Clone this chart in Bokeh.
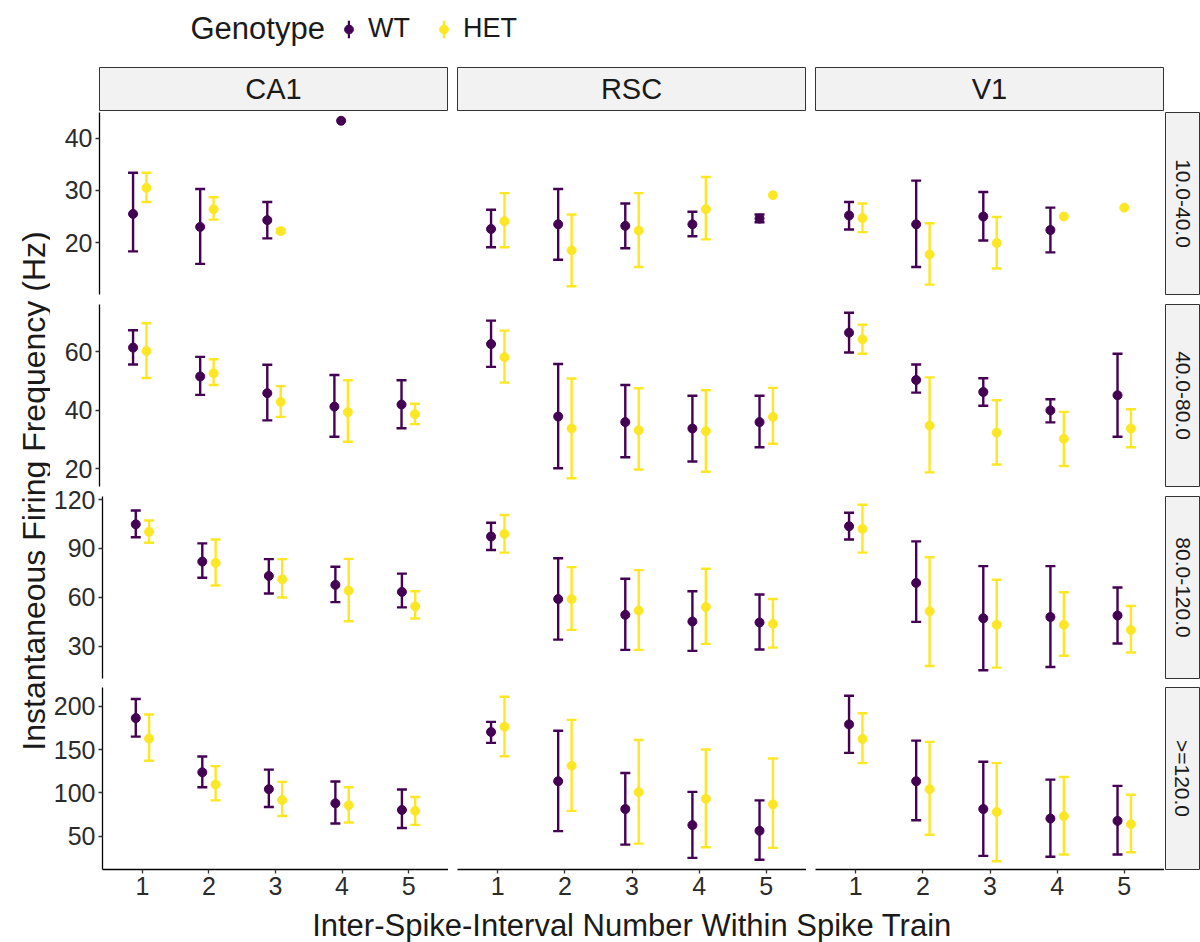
import math
from bokeh.plotting import figure
from bokeh.models import (Range1d, LinearAxis, FixedTicker, Whisker, TeeHead,
                          ColumnDataSource, Label, Legend, LegendItem)
from bokeh.layouts import column, row
from bokeh.embed import file_html
from bokeh.resources import INLINE

NaN = float("nan")

# ---------------- data ----------------
GENOTYPES = ["WT", "HET"]
REGIONS = ["CA1", "RSC", "V1"]
BINS = ["10.0-40.0", "40.0-80.0", "80.0-120.0", ">=120.0"]
ISI = [1, 2, 3, 4, 5]
X_TICKS = [1, 2, 3, 4, 5]
Y_TICKS = [[10, 20, 30, 40], [20, 40, 60], [30, 60, 90, 120], [50, 100, 150, 200]]

# each list: one row per frequency bin, one value per ISI number
CA1_WT_MEAN = [[25.5, 23.0, 24.3, 43.4, NaN], [61.5, 51.6, 45.9, 41.3, 42.0],
               [104.8, 81.9, 73.1, 67.6, 63.3], [186.3, 123.7, 104.2, 87.9, 80.2]]
CA1_WT_LOW = [[18.3, 15.9, 20.8, NaN, NaN], [55.7, 45.3, 36.6, 31.0, 33.9],
              [96.9, 72.0, 62.3, 57.0, 53.8], [164.9, 106.5, 83.6, 64.5, 59.3]]
CA1_WT_HIGH = [[33.4, 30.3, 27.8, NaN, NaN], [67.4, 58.3, 55.6, 52.1, 50.3],
               [113.3, 93.1, 83.4, 78.7, 74.5], [208.4, 142.0, 126.8, 113.0, 103.9]]
CA1_HET_MEAN = [[30.5, 26.4, 22.2, NaN, NaN], [60.3, 52.7, 42.9, 39.4, 38.7],
                [100.2, 81.1, 71.0, 64.1, 54.4], [162.6, 109.6, 91.6, 85.6, 79.1]]
CA1_HET_LOW = [[27.8, 24.4, 21.8, NaN, NaN], [51.1, 48.7, 37.8, 29.3, 35.3],
               [93.5, 67.2, 59.9, 45.3, 47.0], [137.1, 91.3, 73.3, 65.7, 63.0]]
CA1_HET_HIGH = [[33.4, 28.7, 22.6, NaN, NaN], [69.8, 57.5, 48.3, 50.3, 42.3],
                [107.1, 95.5, 83.4, 83.6, 63.7], [190.4, 130.9, 112.6, 106.5, 95.1]]

RSC_WT_MEAN = [[22.6, 23.5, 23.2, 23.5, 24.6], [62.7, 37.9, 36.0, 33.8, 36.0],
               [97.3, 58.9, 49.2, 45.1, 44.5], [170.3, 113.4, 81.3, 62.7, 56.2]]
RSC_WT_LOW = [[19.1, 16.7, 18.9, 21.2, 23.9], [54.9, 20.2, 24.0, 22.5, 27.4],
              [89.0, 34.0, 27.7, 27.1, 27.9], [157.7, 55.8, 40.2, 24.9, 22.7]]
RSC_WT_HIGH = [[26.3, 30.3, 27.5, 25.9, 25.4], [70.7, 55.9, 48.7, 45.0, 45.0],
               [105.8, 84.0, 71.4, 63.7, 61.7], [182.0, 171.7, 122.9, 101.1, 91.3]]
RSC_HET_MEAN = [[24.1, 18.5, 22.3, 26.4, 29.1], [58.2, 33.8, 33.2, 32.9, 37.8],
                [98.9, 58.9, 51.8, 54.0, 43.7], [176.3, 131.3, 100.8, 93.1, 86.7]]
RSC_HET_LOW = [[19.1, 11.6, 15.3, 20.6, NaN], [49.5, 16.8, 19.8, 19.0, 28.6],
               [87.4, 40.0, 27.7, 31.4, 29.1], [142.3, 79.1, 41.3, 37.1, 36.4]]
RSC_HET_HIGH = [[29.5, 25.4, 29.5, 32.6, NaN], [67.3, 50.9, 47.6, 46.9, 47.7],
                [110.5, 78.5, 76.7, 77.5, 58.9], [211.0, 184.3, 161.1, 150.0, 139.7]]

V1_WT_MEAN = [[25.2, 23.5, 25.0, 22.4, NaN], [66.6, 50.4, 46.3, 40.0, 45.2],
              [103.6, 68.8, 47.1, 47.9, 48.8], [179.0, 113.4, 81.3, 70.3, 67.6]]
V1_WT_LOW = [[22.5, 15.3, 20.4, 18.1, NaN], [59.8, 46.1, 41.6, 35.9, 31.0],
             [95.5, 44.9, 15.2, 17.2, 31.6], [146.2, 68.4, 27.2, 26.1, 28.7]]
V1_WT_HIGH = [[27.8, 31.9, 29.7, 26.7, NaN], [73.4, 55.7, 51.0, 43.8, 59.4],
              [111.9, 94.3, 79.1, 79.1, 66.0], [212.1, 160.3, 135.9, 115.3, 108.0]]
V1_HET_MEAN = [[24.7, 17.7, 19.9, 25.0, 26.7], [64.3, 34.8, 32.4, 30.3, 33.8],
               [102.0, 51.4, 43.1, 43.1, 39.9], [162.2, 104.2, 77.9, 73.0, 63.8]]
V1_HET_LOW = [[22.0, 11.9, 15.0, NaN, NaN], [59.4, 18.8, 21.5, 21.0, 27.4],
              [87.4, 17.8, 16.8, 24.1, 26.1], [134.3, 51.6, 21.0, 28.7, 31.4]]
V1_HET_HIGH = [[27.5, 23.7, 24.9, NaN, NaN], [69.3, 51.3, 43.5, 39.5, 40.4],
               [116.8, 84.6, 70.8, 63.1, 54.6], [192.0, 158.8, 134.3, 118.3, 97.7]]

DATA = {
    ("CA1", "WT"): (CA1_WT_MEAN, CA1_WT_LOW, CA1_WT_HIGH),
    ("CA1", "HET"): (CA1_HET_MEAN, CA1_HET_LOW, CA1_HET_HIGH),
    ("RSC", "WT"): (RSC_WT_MEAN, RSC_WT_LOW, RSC_WT_HIGH),
    ("RSC", "HET"): (RSC_HET_MEAN, RSC_HET_LOW, RSC_HET_HIGH),
    ("V1", "WT"): (V1_WT_MEAN, V1_WT_LOW, V1_WT_HIGH),
    ("V1", "HET"): (V1_HET_MEAN, V1_HET_LOW, V1_HET_HIGH),
}

# ---------------- style / layout ----------------
FONT = "Liberation Sans"
COLORS = {"WT": "#440154", "HET": "#FDE725"}
TEXT_DARK = "#1a1a1a"
TICK_TEXT = "#2b2b2b"
STRIP_FILL = "#F2F2F2"
STRIP_LINE = "#333333"
DODGE = 0.1
BAR_W = 2.4
CAP = 10
DOT = 9

TOTAL_W = 1200
YT_W = 50
LEFT_BORDER = 49
COL_W = 349
GAP = 9
RSTRIP_W = 36
FRAME_H = 184
ROW_TOP = [0, 8, 8, 7]
ROW_BOTTOM = [0, 0, 0, 38]
LEGEND_H = 66
STRIP_H = 45
XT_H = 942 - LEGEND_H - STRIP_H - (4 * FRAME_H + sum(ROW_TOP) + sum(ROW_BOTTOM))


def is_nan(v):
    return v is None or (isinstance(v, float) and math.isnan(v))


def y_limits(bi):
    vals = []
    for reg in REGIONS:
        for g in GENOTYPES:
            for arr in DATA[(reg, g)]:
                vals += [v for v in arr[bi] if not is_nan(v)]
    a, b = min(vals), max(vals)
    pad = 0.05 * (b - a)
    return a - pad, b + pad


def blank_fig(w, h, **kw):
    p = figure(width=w, height=h, x_range=Range1d(0, 1), y_range=Range1d(0, 1),
               x_axis_location=None, y_axis_location=None, toolbar_location=None,
               output_backend="svg", min_border=0, **kw)
    p.xgrid.visible = False
    p.ygrid.visible = False
    p.outline_line_color = None
    p.background_fill_color = "white"
    p.border_fill_color = "white"
    return p


def style_axis(ax):
    ax.axis_line_color = "black"
    ax.axis_line_width = 1.3
    ax.major_tick_line_color = "#333333"
    ax.major_tick_line_width = 1.3
    ax.major_tick_out = 4
    ax.major_tick_in = 0
    ax.minor_tick_out = 0
    ax.minor_tick_in = 0
    ax.major_label_standoff = 3
    ax.major_label_text_font = FONT
    ax.major_label_text_font_size = "25px"
    ax.major_label_text_color = TICK_TEXT


def make_panel(bi, ri):
    left = LEFT_BORDER if ri == 0 else GAP
    mt, mb = ROW_TOP[bi], ROW_BOTTOM[bi]
    y0, y1 = y_limits(bi)
    p = figure(width=left + COL_W, height=FRAME_H + mt + mb,
               x_range=Range1d(0.4, 5.6), y_range=Range1d(y0, y1),
               x_axis_location=None, y_axis_location=None, toolbar_location=None,
               output_backend="svg", min_border=0,
               min_border_left=left, min_border_right=0,
               min_border_top=mt, min_border_bottom=mb)
    p.xgrid.visible = False
    p.ygrid.visible = False
    p.outline_line_color = None
    p.background_fill_color = "white"
    p.border_fill_color = "white"
    if ri == 0:
        ax = LinearAxis(ticker=FixedTicker(ticks=Y_TICKS[bi]))
        style_axis(ax)
        p.add_layout(ax, "left")
    if bi == len(BINS) - 1:
        ax = LinearAxis(ticker=FixedTicker(ticks=X_TICKS))
        style_axis(ax)
        p.add_layout(ax, "below")

    reg = REGIONS[ri]
    for g in GENOTYPES:
        col = COLORS[g]
        mean, low, high = DATA[(reg, g)]
        xs, ys, wx, wl, wh = [], [], [], [], []
        for k, isi in enumerate(ISI):
            m = mean[bi][k]
            if is_nan(m):
                continue
            present = [gg for gg in GENOTYPES if not is_nan(DATA[(reg, gg)][0][bi][k])]
            if len(present) == 1:
                off = 0.0
            else:
                off = -DODGE if g == "WT" else DODGE
            xs.append(isi + off)
            ys.append(m)
            if not is_nan(low[bi][k]) and not is_nan(high[bi][k]):
                wx.append(isi + off)
                wl.append(low[bi][k])
                wh.append(high[bi][k])
        wsrc = ColumnDataSource(dict(x=wx, lo=wl, hi=wh))
        w = Whisker(source=wsrc, base="x", lower="lo", upper="hi", dimension="height",
                    line_color=col, line_width=BAR_W,
                    upper_head=TeeHead(size=CAP, line_color=col, line_width=BAR_W),
                    lower_head=TeeHead(size=CAP, line_color=col, line_width=BAR_W))
        p.add_layout(w)
        p.scatter(x=xs, y=ys, size=DOT, fill_color=col, line_color=col)
    return p


def strip_fig(w, h, text, vertical, mbl, mbr, mbt, mbb):
    p = figure(width=w, height=h, x_range=Range1d(0, 1), y_range=Range1d(0, 1),
               x_axis_location=None, y_axis_location=None, toolbar_location=None,
               output_backend="svg", min_border=0, min_border_left=mbl,
               min_border_right=mbr, min_border_top=mbt, min_border_bottom=mbb)
    p.xgrid.visible = False
    p.ygrid.visible = False
    p.background_fill_color = STRIP_FILL
    p.border_fill_color = "white"
    p.outline_line_color = STRIP_LINE
    p.outline_line_width = 1
    p.add_layout(Label(x=0.5, y=0.5, text=text, text_align="center", text_baseline="middle",
                       angle=(-math.pi / 2 if vertical else 0), text_font=FONT,
                       text_font_size=("21px" if vertical else "29px"), text_color=TEXT_DARK))
    return p


# ---------------- legend ----------------
lp = blank_fig(TOTAL_W, LEGEND_H)
lp.add_layout(Label(x=190, y=LEGEND_H - 28, x_units="screen", y_units="screen",
                    text="Genotype", text_font=FONT, text_font_size="31px",
                    text_baseline="middle", text_color=TEXT_DARK))
bar_items, dot_items = [], []
for g in GENOTYPES:
    bar = lp.vbar(x=[NaN], top=[NaN], width=0.01, fill_color=COLORS[g], line_color=None)
    dot = lp.scatter(x=[NaN], y=[NaN], marker="circle", size=DOT,
                     fill_color=COLORS[g], line_color=COLORS[g])
    bar_items.append(LegendItem(label=g, renderers=[bar]))
    dot_items.append(LegendItem(label=g, renderers=[dot]))
common = dict(orientation="horizontal", glyph_height=22, padding=0, margin=0,
              border_line_color=None, background_fill_alpha=0, label_text_font=FONT,
              label_text_font_size="27px", label_height=24)
# key stems (thin vertical bars), labels hidden
leg_bars = Legend(items=bar_items, location=(347, LEGEND_H - 44), glyph_width=3,
                  label_standoff=18, spacing=32, label_text_alpha=0,
                  label_text_color=TEXT_DARK, **common)
# key dots with visible labels
leg_dots = Legend(items=dot_items, location=(337, LEGEND_H - 44), glyph_width=23,
                  label_standoff=8, spacing=22, label_text_color=TEXT_DARK, **common)
lp.add_layout(leg_bars, "center")
lp.add_layout(leg_dots, "center")

# ---------------- top strips ----------------
strips_top = []
for ri, reg in enumerate(REGIONS):
    if ri == 0:
        w = YT_W + LEFT_BORDER + COL_W
        mbl = YT_W + LEFT_BORDER
    else:
        w = GAP + COL_W
        mbl = GAP
    mbr = 1
    if ri == len(REGIONS) - 1:
        w += RSTRIP_W
        mbr = RSTRIP_W + 1
    strips_top.append(strip_fig(w, STRIP_H, reg, False, mbl, mbr, 1, 1))

# ---------------- panel rows ----------------
panel_rows = []
for bi, b in enumerate(BINS):
    figs = [make_panel(bi, ri) for ri in range(len(REGIONS))]
    figs.append(strip_fig(RSTRIP_W, FRAME_H + ROW_TOP[bi] + ROW_BOTTOM[bi], b, True,
                          1, 1, ROW_TOP[bi] + 1, ROW_BOTTOM[bi] + 1))
    panel_rows.append(row(*figs))

grid_h = sum(FRAME_H + t + b for t, b in zip(ROW_TOP, ROW_BOTTOM))
frames_span = grid_h - ROW_BOTTOM[-1]
yt = blank_fig(YT_W, grid_h)
yt.add_layout(Label(x=33, y=ROW_BOTTOM[-1] + frames_span / 2,
                    x_units="screen", y_units="screen",
                    text="Instantaneous Firing Frequency (Hz)", angle=math.pi / 2,
                    text_align="center", text_baseline="middle", text_font=FONT,
                    text_font_size="32px", text_color=TEXT_DARK))

xt = blank_fig(TOTAL_W, XT_H)
xt.add_layout(Label(x=YT_W + LEFT_BORDER + (3 * COL_W + 2 * GAP) / 2, y=XT_H / 2,
                    x_units="screen", y_units="screen",
                    text="Inter-Spike-Interval Number Within Spike Train",
                    text_align="center", text_baseline="middle", text_font=FONT,
                    text_font_size="31px", text_color=TEXT_DARK))

layout = column(lp, row(*strips_top), row(yt, column(*panel_rows)), xt)

with open("out.html", "w") as f:
    f.write(file_html(layout, INLINE))
